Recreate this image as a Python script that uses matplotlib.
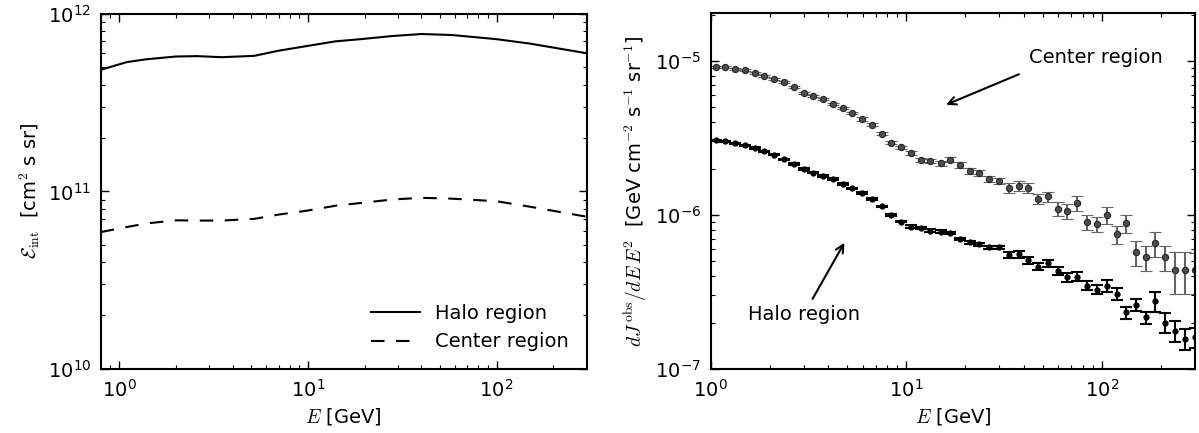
import numpy as np
import matplotlib
matplotlib.use("Agg")
import matplotlib.pyplot as plt

plt.rcParams['font.family'] = ['DejaVu Sans']
plt.rcParams['mathtext.fontset'] = 'cm'
plt.rcParams['axes.unicode_minus'] = False
plt.rcParams['font.size'] = 14

# left panel: exposure curves
e_exp = [0.8, 1.1, 1.4, 2.0, 2.6, 3.5, 5.2, 7.0, 10, 14, 19, 28, 40, 58, 100, 150, 300]
exp_halo = [4.84e11, 5.35e11, 5.55e11, 5.75e11, 5.78e11, 5.7e11, 5.8e11, 6.2e11, 6.6e11,
            7.0e11, 7.2e11, 7.5e11, 7.7e11, 7.6e11, 7.2e11, 6.8e11, 6.0e11]
exp_center = [5.9e10, 6.3e10, 6.6e10, 6.87e10, 6.85e10, 6.85e10, 7.0e10, 7.4e10, 7.8e10,
              8.3e10, 8.6e10, 9.0e10, 9.2e10, 9.1e10, 8.8e10, 8.2e10, 7.2e10]

# right panel: observed spectra
e_bins = [1.06, 1.19, 1.33, 1.50, 1.68, 1.88, 2.11, 2.37, 2.66, 2.99,
          3.35, 3.76, 4.22, 4.73, 5.31, 5.96, 6.68, 7.50, 8.41, 9.44,
          10.6, 11.9, 13.3, 15.0, 16.8, 18.8, 21.1, 23.7, 26.6, 29.9,
          33.5, 37.6, 42.2, 47.3, 53.1, 59.6, 66.8, 75.0, 84.1, 94.4,
          106, 119, 133, 150, 168, 188, 211, 237, 266, 299]
flux_center = [9.19e-6, 9.1e-6, 8.87e-6, 8.69e-6, 8.31e-6, 7.95e-6, 7.64e-6, 7.27e-6, 6.74e-6, 6.23e-6,
               5.92e-6, 5.66e-6, 5.23e-6, 4.93e-6, 4.57e-6, 4.2e-6, 3.86e-6, 3.38e-6, 2.95e-6, 2.75e-6,
               2.53e-6, 2.28e-6, 2.24e-6, 2.17e-6, 2.29e-6, 2.11e-6, 1.94e-6, 1.87e-6, 1.71e-6, 1.67e-6,
               1.50e-6, 1.55e-6, 1.50e-6, 1.27e-6, 1.32e-6, 1.10e-6, 1.06e-6, 1.20e-6, 8.95e-7, 8.74e-7,
               1.0e-6, 7.48e-7, 8.83e-7, 5.73e-7, 5.31e-7, 6.55e-7, 5.31e-7, 4.4e-7, 4.4e-7, 4.38e-7]
flux_halo = [3.06e-6, 3.01e-6, 2.92e-6, 2.83e-6, 2.72e-6, 2.59e-6, 2.46e-6, 2.30e-6, 2.14e-6, 1.99e-6,
             1.88e-6, 1.79e-6, 1.71e-6, 1.59e-6, 1.49e-6, 1.39e-6, 1.27e-6, 1.14e-6, 1.0e-6, 9.05e-7,
             8.4e-7, 8.24e-7, 7.91e-7, 7.8e-7, 7.64e-7, 6.98e-7, 6.65e-7, 6.45e-7, 6.17e-7, 6.17e-7,
             5.5e-7, 5.55e-7, 5.08e-7, 4.62e-7, 4.86e-7, 4.33e-7, 3.94e-7, 3.98e-7, 3.48e-7, 3.27e-7,
             3.46e-7, 3.07e-7, 2.33e-7, 2.6e-7, 2.16e-7, 2.75e-7, 2.0e-7, 1.77e-7, 1.57e-7, 1.6e-7]
# relative errors
relerr_center = [0.015] * 15 + [0.025] * 5 + [0.035] * 5 + [0.045] * 5 + [0.075] * 5 + \
                [0.11] * 5 + [0.13] * 3 + [0.19] * 4 + [0.30] * 3
relerr_halo = [0.01] * 20 + [0.02] * 10 + [0.05] * 5 + [0.065] * 5 + [0.09] * 5 + [0.15] * 5

fig = plt.figure(figsize=(11.99, 4.33), dpi=100)
ax1 = fig.add_axes([0.084, 0.148, 0.4053, 0.820])
ax2 = fig.add_axes([0.5927, 0.148, 0.404, 0.822])

ax1.plot(e_exp, exp_halo, color='k', lw=1.5, label='Halo region')
ax1.plot(e_exp, exp_center, color='k', lw=1.5, dashes=(6.5, 5.5), label='Center region')
ax1.set_xscale('log')
ax1.set_yscale('log')
ax1.set_xlim(0.8, 300)
ax1.set_ylim(1e10, 1e12)
ax1.set_xlabel(r'$E$ [GeV]')
ax1.set_ylabel(r'$\mathcal{E}_{\rm int}$  [cm$^2$ s sr]')
ax1.legend(loc='lower right', frameon=False, fontsize=14, handlelength=2.5)

yc = np.array(flux_center)
yh = np.array(flux_halo)
ax2.errorbar(e_bins, yc, yerr=yc * np.array(relerr_center), fmt='o', ms=4.5,
             mfc='0.3', mec='0.15', mew=0.8, ecolor='0.4', elinewidth=1.5, capsize=4, capthick=1.5)
ax2.errorbar(e_bins, yh, yerr=yh * np.array(relerr_halo), fmt='o', ms=3.5,
             mfc='k', mec='k', ecolor='k', elinewidth=1.5, capsize=4, capthick=1.5)
ax2.set_xscale('log')
ax2.set_yscale('log')
ax2.set_xlim(1, 300)
ax2.set_ylim(1e-7, 2.05e-5)
ax2.set_xlabel(r'$E$ [GeV]')
ax2.set_ylabel(r'$dJ^{\,\rm obs}/dE\,E^2$  [GeV cm$^{-2}$ s$^{-1}$ sr$^{-1}$]')

# annotations
ax2.text(93, 1.05e-5, 'Center region', ha='center', va='center', fontsize=14)
ax2.annotate('', xy=(16, 5.2e-6), xytext=(37.7, 8.2e-6),
             arrowprops=dict(arrowstyle='->', color='k', lw=1.5, shrinkA=0, shrinkB=0))
ax2.text(3.0, 2.27e-7, 'Halo region', ha='center', va='center', fontsize=14)
ax2.annotate('', xy=(4.83, 6.6e-7), xytext=(3.32, 2.85e-7),
             arrowprops=dict(arrowstyle='->', color='k', lw=1.5, shrinkA=0, shrinkB=0))

for ax in (ax1, ax2):
    for s in ax.spines.values():
        s.set_linewidth(1.5)
    ax.tick_params(which='both', direction='in', top=True, right=True, labelsize=14)
    ax.tick_params(which='major', length=6, width=1, pad=7)
    ax.tick_params(which='minor', length=3, width=0.8)

fig.savefig('out.png', dpi=100)
